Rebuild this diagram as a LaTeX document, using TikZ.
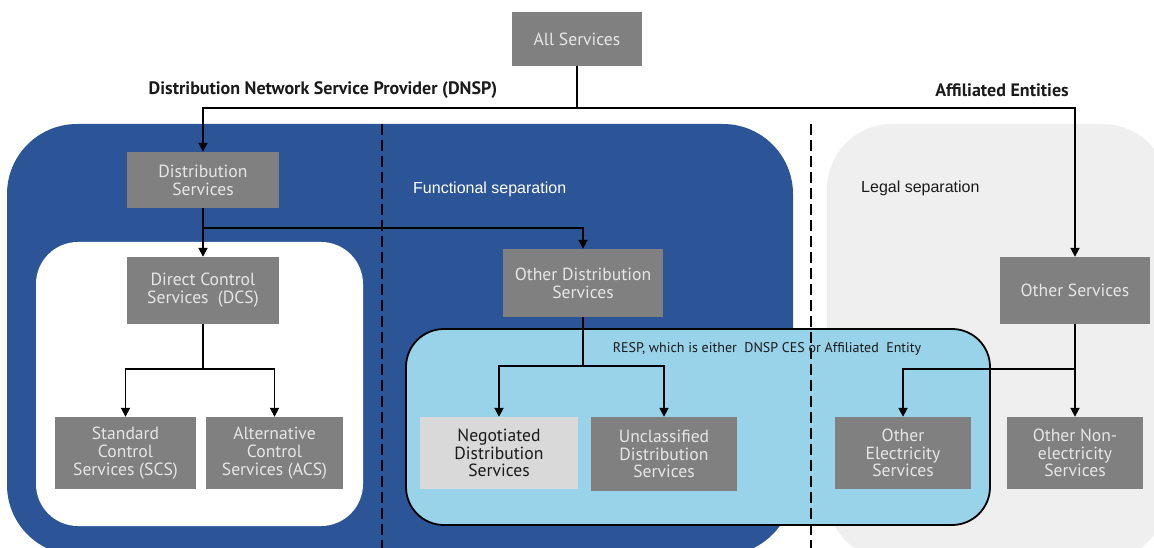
\documentclass[tikz,border=0pt]{standalone}
\usepackage{fontspec}
\setmainfont{PT Sans}
\newfontfamily\plainsans{Liberation Sans}
\usetikzlibrary{arrows.meta}
\definecolor{boxgray}{HTML}{808080}
\definecolor{boxtext}{HTML}{E6E6E6}
\definecolor{dnspblue}{HTML}{2C5597}
\definecolor{legalgray}{HTML}{EFEFEF}
\definecolor{respblue}{HTML}{98D3EA}
\definecolor{neggray}{HTML}{D9D9D9}
\definecolor{inktext}{HTML}{1A1A1A}
\begin{document}
\begin{tikzpicture}[x=1pt,y=-1pt,
  svc/.style={fill=boxgray, text=boxtext, align=center, inner sep=0pt,
              font=\fontsize{17.6}{17.8}\selectfont},
  link/.style={line width=1.8pt, black},
  arrowlink/.style={link, -{Triangle[length=9pt,width=9pt]}},
  sepline/.style={line width=2.8pt, dash pattern=on 11pt off 5pt},
  region/.style={font=\plainsans\fontsize{16}{18}\selectfont, anchor=west, inner sep=0pt},
  header/.style={font=\bfseries\fontsize{18}{20}\selectfont, text=inktext, inner sep=0pt}
]
\useasboundingbox (0,0) rectangle (1154,548);

% background regions
\begin{scope}
  \clip (0,0) rectangle (1154,548);
  \fill[dnspblue, rounded corners=70pt] (7,124) rectangle (793,555);
  \fill[legalgray, rounded corners=65pt] (827,124) rectangle (1168,560);
  \fill[white, rounded corners=42pt] (36,242) rectangle (363,526);
  \filldraw[fill=respblue, draw=black, line width=1.8pt, rounded corners=38pt]
    (406,329) rectangle (990,525);
  \draw[sepline] (382,124) -- (382,548);
  \draw[sepline] (811,124) -- (811,548);
\end{scope}

% region labels
\node[region, text=white] (func) at (413,189) {Functional separation};
\node[region, text=inktext] (legal) at (861,188) {Legal separation};
\node[header] (dnsp) at (323,90) {Distribution Network Service Provider (DNSP)};
\node[header] (affil) at (1002,90) {Affiliated Entities};
\node[font=\fontsize{14}{16}\selectfont, text=inktext, inner sep=0pt] (resp) at (767,349)
  {RESP, which is either \ DNSP CES or Affiliated \ Entity};

% service boxes
\node[svc, minimum width=130pt, minimum height=54pt] (all) at (577,39) {All Services};
\node[svc, minimum width=152pt, minimum height=56pt] (dist) at (203,180) {Distribution\\Services};
\node[svc, minimum width=152pt, minimum height=67pt] (dcs) at (203,290.5) {Direct Control\\Services \ (DCS)};
\node[svc, minimum width=141pt, minimum height=72pt] (scs) at (125.5,453) {Standard\\Control\\Services (SCS)};
\node[svc, minimum width=137pt, minimum height=72pt] (acs) at (274.5,453) {Alternative\\Control\\Services (ACS)};
\node[svc, minimum width=160pt, minimum height=68pt] (ods) at (583,283) {Other Distribution\\Services};
\node[svc, fill=neggray, text=inktext, minimum width=158pt, minimum height=72pt] (neg) at (499,453) {Negotiated\\Distribution\\Services};
\node[svc, minimum width=146pt, minimum height=74pt] (unc) at (664,454) {Unclassified\\Distribution\\Services};
\node[svc, minimum width=150pt, minimum height=67pt] (oth) at (1075,290.5) {Other Services};
\node[svc, minimum width=136pt, minimum height=72pt] (oes) at (903,453) {Other\\Electricity\\Services};
\node[svc, minimum width=136pt, minimum height=72pt] (onon) at (1075,453) {Other Non-\\electricity\\Services};

% junction points of the tree
\coordinate (jtop) at (577,108);
\coordinate (jdist) at (203,228);
\coordinate (jdcs) at (203,369);
\coordinate (jods) at (583,366);
\coordinate (joth) at (1075,369);

% connectors
\draw[link] (all.south) -- (jtop);
\draw[arrowlink] (jtop) -| (dist.north);
\draw[arrowlink] (jtop) -| (oth.north);
\draw[arrowlink] (dist.south) -- (dcs.north);
\draw[arrowlink] (jdist) -| (ods.north);
\draw[link] (dcs.south) -- (jdcs);
\draw[arrowlink] (jdcs) -| (scs.north);
\draw[arrowlink] (jdcs) -| (acs.north);
\draw[link] (ods.south) -- (jods);
\draw[arrowlink] (jods) -| (neg.north);
\draw[arrowlink] (jods) -| (unc.north);
\draw[arrowlink] (oth.south) -- (onon.north);
\draw[arrowlink] (joth) -| (oes.north);
\end{tikzpicture}
\end{document}
